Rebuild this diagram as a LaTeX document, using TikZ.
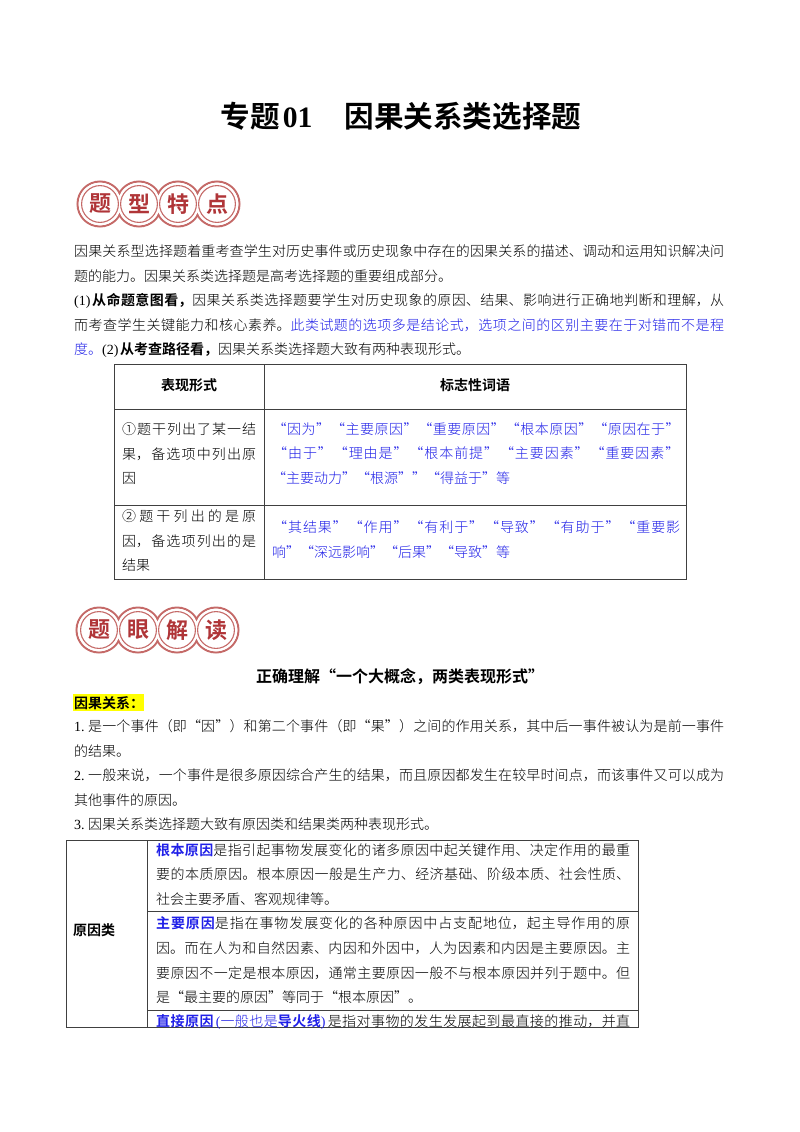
\documentclass[tikz,border=0pt]{standalone}
\usepackage{fontspec}
\setmainfont[BoldFont={Noto Sans CJK SC Bold}]{Noto Sans CJK SC Light}
\newfontfamily\lat[BoldFont={Liberation Serif Bold}]{Liberation Serif}
\definecolor{bluetx}{HTML}{2020E8}
\definecolor{ring}{HTML}{C56A68}
\definecolor{badgetx}{HTML}{B03538}
\definecolor{hiyel}{HTML}{FFFF00}
\definecolor{rulec}{HTML}{404040}
\XeTeXlinebreaklocale "zh"
\XeTeXlinebreakskip=0pt plus 3pt minus 1.2pt
\catcode`“=\active
\catcode`”=\active
\def“{\hspace{0pt plus 3pt}\makebox[1em][r]{\char"201C}\hspace{0pt plus 3pt}}
\def”{\hspace{0pt plus 3pt}\makebox[1em][l]{\char"201D}\hspace{0pt plus 3pt}}
\newcommand\jl[2]{\parbox[b]{#1pt}{\tolerance=9999\emergencystretch=0pt\parfillskip=0pt\hbadness=10000\noindent #2}}
\newcommand\bb[1]{{\bfseries #1}}
\newcommand\bl[1]{{\color{bluetx}#1}}
\newcommand\bbl[1]{{\color{bluetx}\bfseries #1}}
\newcommand\num[2]{\makebox[#1pt][l]{\lat #2}}
\tikzset{
  txt/.style={anchor=base west,inner sep=0pt,font=\fontsize{14}{14}\selectfont},
  ctr/.style={anchor=base,inner sep=0pt,font=\fontsize{14}{14}\selectfont},
  rulel/.style={draw=rulec,line width=0.9pt},
  outerring/.style={draw=ring,line width=2pt},
  innerring/.style={draw=ring,line width=1.1pt},
  badgechar/.style={inner sep=0pt,text=badgetx,font=\fontsize{22}{22}\selectfont\bfseries}
}
\newcommand\badge[7]{%
  \foreach \cx in {0,39,78,117} \draw[outerring] (#1+\cx,#2) circle (22.5);
  \foreach \cx in {0,39,78,117} \fill[white] (#1+\cx,#2) circle (21.3);
  \foreach \cx in {0,39,78,117} \draw[innerring] (#1+\cx,#2) circle (18.4);
  \node[badgechar] (#3a) at (#1,#2) {#4};
  \node[badgechar] (#3b) at (#1+39,#2) {#5};
  \node[badgechar] (#3c) at (#1+78,#2) {#6};
  \node[badgechar] (#3d) at (#1+117,#2) {#7};
}
\begin{document}
\begin{tikzpicture}[x=1pt,y=-1pt]
\useasboundingbox (0,0) rectangle (800,1132);
\fill[white] (0,0) rectangle (800,1132);
% title
\node[anchor=base west,inner sep=0pt,font=\fontsize{29.6}{29.6}\selectfont\bfseries] (title) at (220.5,127) {专题\hspace{3pt}{\lat\bfseries 01}\hspace{32pt}因果关系类选择题};
% badge 1
\badge{100}{204}{ba}{题}{型}{特}{点}
% intro
\node[txt] (p1) at (74,256) {\jl{650}{因果关系型选择题着重考查学生对历史事件或历史现象中存在的因果关系的描述、调动和运用知识解决问}};
\node[txt] (p2) at (74,281) {题的能力。因果关系类选择题是高考选择题的重要组成部分。};
\node[txt] (p3) at (74,305) {\jl{650}{\num{18}{(1)}\bb{从命题意图看，}因果关系类选择题要学生对历史现象的原因、结果、影响进行正确地判断和理解，从}};
\node[txt] (p4) at (74,330) {\jl{650}{而考查学生关键能力和核心素养。\bl{此类试题的选项多是结论式，选项之间的区别主要在于对错而不是程}}};
\node[txt] (p5) at (74,354) {\bl{度。}\num{18}{(2)}\bb{从考查路径看，}因果关系类选择题大致有两种表现形式。};
% table 1
\draw[rulel] (114,364) rectangle (686,579);
\draw[rulel] (264,364) -- (264,579);
\draw[rulel] (114,409) -- (686,409);
\draw[rulel] (114,505) -- (686,505);
\node[ctr,font=\fontsize{14}{14}\selectfont\bfseries] (h1) at (189,390) {表现形式};
\node[ctr,font=\fontsize{14}{14}\selectfont\bfseries] (h2) at (475,390) {标志性词语};
\node[txt] (c1a) at (122,434) {\jl{134}{①题干列出了某一结}};
\node[txt] (c1b) at (122,459) {\jl{134}{果，备选项中列出原}};
\node[txt] (c1c) at (122,483) {因};
\node[txt] (c2a) at (122,521) {\jl{134}{②题干列出的是原}};
\node[txt] (c2b) at (122,546) {\jl{134}{因，备选项列出的是}};
\node[txt] (c2c) at (122,570) {结果};
\node[txt] (k1) at (272,434) {\jl{408}{\bl{“因为”“主要原因”“重要原因”“根本原因”“原因在于”}}};
\node[txt] (k2) at (272,458) {\jl{408}{\bl{“由于”“理由是”“根本前提”“主要因素”“重要因素”}}};
\node[txt] (k3) at (272,483) {\bl{“主要动力”“根源””“得益于”等}};
\node[txt] (k4) at (272,532) {\jl{408}{\bl{“其结果”“作用”“有利于”“导致”“有助于”“重要影}}};
\node[txt] (k5) at (272,557) {\bl{响”“深远影响”“后果”“导致”等}};
% badge 2
\badge{99}{630}{bb}{题}{眼}{解}{读}
\node[ctr,font=\fontsize{16}{16}\selectfont\bfseries] (sec) at (400,682.5) {正确理解“一个大概念，两类表现形式”};
\fill[hiyel] (73,694) rectangle (144,711);
\node[txt,font=\fontsize{14}{14}\selectfont\bfseries] (yel) at (74,708) {因果关系：};
\node[txt] (l1) at (74,731) {\jl{650}{\num{14}{1.}是一个事件（即“因”）和第二个事件（即“果”）之间的作用关系，其中后一事件被认为是前一事件}};
\node[txt] (l2) at (74,756) {的结果。};
\node[txt] (l3) at (74,780) {\jl{650}{\num{14}{2.}一般来说，一个事件是很多原因综合产生的结果，而且原因都发生在较早时间点，而该事件又可以成为}};
\node[txt] (l4) at (74,805) {其他事件的原因。};
\node[txt] (l5) at (74,829) {\num{14}{3.}因果关系类选择题大致有原因类和结果类两种表现形式。};
% table 2
\draw[rulel] (66,1027) -- (66,840) -- (638,840) -- (638,1027) -- cycle;
\draw[rulel] (147,840) -- (147,1027);
\draw[rulel] (147,911) -- (638,911);
\draw[rulel] (147,1010) -- (638,1010);
\node[txt,font=\fontsize{14}{14}\selectfont\bfseries] (yy) at (73,935) {原因类};
\node[txt] (r1) at (156,855) {\jl{474}{\bbl{根本原因}是指引起事物发展变化的诸多原因中起关键作用、决定作用的最重}};
\node[txt] (r2) at (156,879) {\jl{474}{要的本质原因。根本原因一般是生产力、经济基础、阶级本质、社会性质、}};
\node[txt] (r3) at (156,904) {社会主要矛盾、客观规律等。};
\node[txt] (r4) at (156,928) {\jl{474}{\bbl{主要原因}是指在事物发展变化的各种原因中占支配地位，起主导作用的原}};
\node[txt] (r5) at (156,953) {\jl{474}{因。而在人为和自然因素、内因和外因中，人为因素和内因是主要原因。主}};
\node[txt] (r6) at (156,978) {\jl{474}{要原因不一定是根本原因，通常主要原因一般不与根本原因并列于题中。但}};
\node[txt] (r7) at (156,1002) {是“最主要的原因”等同于“根本原因”。};
\node[txt] (r8) at (156,1026) {\jl{474}{\bbl{直接原因}\bl{\makebox[7pt][r]{\lat (}一般也是}\bbl{导火线}\bl{\makebox[7pt][l]{\lat )}}是指对事物的发生发展起到最直接的推动，并直}};
\end{tikzpicture}
\end{document}
